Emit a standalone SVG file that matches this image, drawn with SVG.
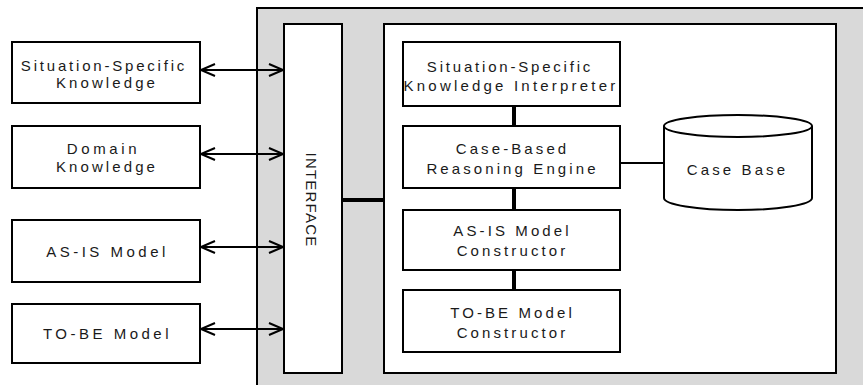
<svg xmlns="http://www.w3.org/2000/svg" width="863" height="385" viewBox="0 0 863 385">
  <style>
    .box { fill: #ffffff; stroke: #000000; stroke-width: 2; }
    .frame { fill: #d9d9d9; stroke: #000000; stroke-width: 2; }
    .link { stroke: #000000; stroke-width: 2; fill: none; }
    .bus { stroke: #000000; stroke-width: 4; fill: none; }
    .lbl { font-family: "Liberation Sans", Arial, sans-serif; font-size: 15px; fill: #1a1a1a; text-anchor: middle; letter-spacing: 3.1px; }
  </style>
  <defs>
    <marker id="arrow" viewBox="-16 -8 18 16" refX="0" refY="0" markerWidth="18" markerHeight="16" markerUnits="userSpaceOnUse" orient="auto-start-reverse">
      <path d="M-14,-6 L0,0 L-14,6" fill="none" stroke="#000000" stroke-width="2"/>
    </marker>
  </defs>

  <!-- system frame -->
  <g id="system">
    <rect class="frame" x="257" y="8" width="640" height="400"/>
  </g>

  <!-- interface column -->
  <g id="interface">
    <rect class="box" x="284" y="24" width="58" height="349"/>
    <text class="lbl" style="letter-spacing:1.2px" transform="translate(306,200) rotate(90)">INTERFACE</text>
  </g>

  <!-- core engine area -->
  <g id="core">
    <rect class="box" x="384" y="24" width="452" height="349"/>
  </g>

  <!-- external inputs -->
  <g id="situation-knowledge">
    <rect class="box" x="12" y="42" width="188" height="61"/>
    <text class="lbl" style="letter-spacing:2.8px" x="104" y="70.5">Situation-Specific</text>
    <text class="lbl" x="107" y="87.5">Knowledge</text>
  </g>
  <g id="domain-knowledge">
    <rect class="box" x="12" y="126" width="188" height="62"/>
    <text class="lbl" style="letter-spacing:3.6px" x="103.5" y="154">Domain</text>
    <text class="lbl" x="107" y="171.5">Knowledge</text>
  </g>
  <g id="as-is-model">
    <rect class="box" x="12" y="220" width="188" height="62"/>
    <text class="lbl" style="letter-spacing:3.5px" x="107.5" y="257">AS-IS Model</text>
  </g>
  <g id="to-be-model">
    <rect class="box" x="12" y="304" width="188" height="59"/>
    <text class="lbl" style="letter-spacing:3.5px" x="107.5" y="339">TO-BE Model</text>
  </g>

  <!-- engine modules -->
  <g id="interpreter">
    <rect class="box" x="403" y="42" width="217" height="64"/>
    <text class="lbl" style="letter-spacing:2.8px" x="510" y="72">Situation-Specific</text>
    <text class="lbl" style="letter-spacing:3.2px" x="511" y="91">Knowledge Interpreter</text>
  </g>
  <g id="cbr-engine">
    <rect class="box" x="403" y="126" width="217" height="62"/>
    <text class="lbl" x="512.5" y="154">Case-Based</text>
    <text class="lbl" x="512.5" y="173.5">Reasoning Engine</text>
  </g>
  <g id="as-is-constructor">
    <rect class="box" x="403" y="210" width="217" height="60"/>
    <text class="lbl" x="512.5" y="235.5">AS-IS Model</text>
    <text class="lbl" x="512.5" y="255.5">Constructor</text>
  </g>
  <g id="to-be-constructor">
    <rect class="box" x="403" y="290" width="217" height="62"/>
    <text class="lbl" x="512.5" y="318">TO-BE Model</text>
    <text class="lbl" x="512.5" y="338">Constructor</text>
  </g>

  <!-- case base store -->
  <g id="case-base">
    <path class="box" d="M664,126 L664,198 A74,12 0 0 0 812,198 L812,126"/>
    <ellipse class="box" cx="738" cy="126" rx="74" ry="11"/>
    <text class="lbl" x="737.5" y="175">Case Base</text>
  </g>

  <!-- connectors -->
  <g id="connectors">
    <line class="link" x1="201" y1="70" x2="283" y2="70" marker-start="url(#arrow)" marker-end="url(#arrow)"/>
    <line class="link" x1="201" y1="154" x2="283" y2="154" marker-start="url(#arrow)" marker-end="url(#arrow)"/>
    <line class="link" x1="201" y1="247" x2="283" y2="247" marker-start="url(#arrow)" marker-end="url(#arrow)"/>
    <line class="link" x1="201" y1="329" x2="283" y2="329" marker-start="url(#arrow)" marker-end="url(#arrow)"/>
    <line class="bus" x1="343" y1="200" x2="383" y2="200"/>
    <line class="bus" x1="514" y1="107" x2="514" y2="125"/>
    <line class="bus" x1="514" y1="189" x2="514" y2="209"/>
    <line class="bus" x1="514" y1="271" x2="514" y2="289"/>
    <line class="link" x1="621" y1="163" x2="663" y2="163"/>
  </g>
</svg>
